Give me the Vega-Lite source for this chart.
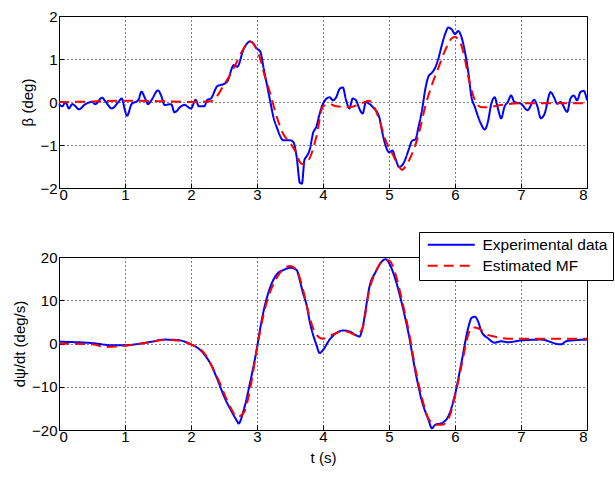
{
  "$schema": "https://vega.github.io/schema/vega-lite/v6.json",
  "background": "white",
  "padding": {"left": 12, "top": 8, "right": 1, "bottom": 0},
  "bounds": "flush",
  "spacing": 69,
  "config": {
    "font": "Liberation Sans",
    "view": {"stroke": "black", "strokeWidth": 1},
    "axis": {
      "grid": true, "gridColor": "black", "gridDash": [1, 3], "gridOpacity": 1, "gridWidth": 1,
      "domain": false, "tickColor": "black", "tickSize": -5,
      "labelFontSize": 15, "labelColor": "black", "labelPadding": 7,
      "titleFontSize": 15, "titleFontWeight": "normal", "titleColor": "black"
    }
  },
  "datasets": {
    "beta": [
      {"s":"Experimental data","t":0,"v":-0.05},{"s":"Experimental data","t":0.05,"v":-0.1},{"s":"Experimental data","t":0.1,"v":0},{"s":"Experimental data","t":0.15,"v":-0.15},{"s":"Experimental data","t":0.2,"v":-0.05},{"s":"Experimental data","t":0.25,"v":-0.1},{"s":"Experimental data","t":0.3,"v":-0.17},{"s":"Experimental data","t":0.4,"v":-0.05},{"s":"Experimental data","t":0.5,"v":0},{"s":"Experimental data","t":0.55,"v":-0.05},{"s":"Experimental data","t":0.65,"v":0.1},{"s":"Experimental data","t":0.7,"v":0.02},{"s":"Experimental data","t":0.8,"v":-0.15},{"s":"Experimental data","t":0.9,"v":0},{"s":"Experimental data","t":0.95,"v":0.08},{"s":"Experimental data","t":1.0,"v":-0.2},{"s":"Experimental data","t":1.03,"v":-0.32},{"s":"Experimental data","t":1.1,"v":-0.05},{"s":"Experimental data","t":1.2,"v":0.04},{"s":"Experimental data","t":1.25,"v":0.24},{"s":"Experimental data","t":1.3,"v":0.1},{"s":"Experimental data","t":1.35,"v":-0.05},{"s":"Experimental data","t":1.4,"v":0.04},{"s":"Experimental data","t":1.5,"v":0.27},{"s":"Experimental data","t":1.55,"v":0.14},{"s":"Experimental data","t":1.6,"v":-0.07},{"s":"Experimental data","t":1.7,"v":-0.05},{"s":"Experimental data","t":1.75,"v":-0.24},{"s":"Experimental data","t":1.85,"v":-0.1},{"s":"Experimental data","t":1.9,"v":-0.07},{"s":"Experimental data","t":2.0,"v":-0.15},{"s":"Experimental data","t":2.07,"v":0.05},{"s":"Experimental data","t":2.12,"v":-0.1},{"s":"Experimental data","t":2.2,"v":-0.1},{"s":"Experimental data","t":2.25,"v":0.05},{"s":"Experimental data","t":2.3,"v":0.08},{"s":"Experimental data","t":2.4,"v":0.37},{"s":"Experimental data","t":2.5,"v":0.42},{"s":"Experimental data","t":2.55,"v":0.48},{"s":"Experimental data","t":2.65,"v":0.86},{"s":"Experimental data","t":2.7,"v":0.82},{"s":"Experimental data","t":2.8,"v":1.24},{"s":"Experimental data","t":2.9,"v":1.41},{"s":"Experimental data","t":3.0,"v":1.24},{"s":"Experimental data","t":3.05,"v":1.17},{"s":"Experimental data","t":3.1,"v":0.79},{"s":"Experimental data","t":3.2,"v":0.02},{"s":"Experimental data","t":3.25,"v":-0.36},{"s":"Experimental data","t":3.3,"v":-0.59},{"s":"Experimental data","t":3.4,"v":-0.89},{"s":"Experimental data","t":3.5,"v":-0.89},{"s":"Experimental data","t":3.55,"v":-0.93},{"s":"Experimental data","t":3.6,"v":-1.27},{"s":"Experimental data","t":3.65,"v":-1.88},{"s":"Experimental data","t":3.68,"v":-1.9},{"s":"Experimental data","t":3.72,"v":-1.34},{"s":"Experimental data","t":3.75,"v":-1.27},{"s":"Experimental data","t":3.8,"v":-1.1},{"s":"Experimental data","t":3.85,"v":-0.72},{"s":"Experimental data","t":3.9,"v":-0.57},{"s":"Experimental data","t":3.95,"v":-0.27},{"s":"Experimental data","t":4.0,"v":-0.04},{"s":"Experimental data","t":4.1,"v":0.11},{"s":"Experimental data","t":4.15,"v":0.04},{"s":"Experimental data","t":4.2,"v":0.11},{"s":"Experimental data","t":4.25,"v":0.3},{"s":"Experimental data","t":4.3,"v":0.34},{"s":"Experimental data","t":4.35,"v":0.04},{"s":"Experimental data","t":4.4,"v":-0.15},{"s":"Experimental data","t":4.45,"v":0.08},{"s":"Experimental data","t":4.5,"v":0.04},{"s":"Experimental data","t":4.55,"v":-0.15},{"s":"Experimental data","t":4.6,"v":-0.27},{"s":"Experimental data","t":4.65,"v":0},{"s":"Experimental data","t":4.7,"v":-0.04},{"s":"Experimental data","t":4.75,"v":-0.11},{"s":"Experimental data","t":4.85,"v":-0.34},{"s":"Experimental data","t":4.9,"v":-0.72},{"s":"Experimental data","t":4.95,"v":-1.02},{"s":"Experimental data","t":5.0,"v":-1.17},{"s":"Experimental data","t":5.05,"v":-1.13},{"s":"Experimental data","t":5.1,"v":-1.32},{"s":"Experimental data","t":5.15,"v":-1.51},{"s":"Experimental data","t":5.2,"v":-1.47},{"s":"Experimental data","t":5.25,"v":-1.32},{"s":"Experimental data","t":5.3,"v":-1.1},{"s":"Experimental data","t":5.35,"v":-0.9},{"s":"Experimental data","t":5.4,"v":-0.87},{"s":"Experimental data","t":5.45,"v":-0.56},{"s":"Experimental data","t":5.5,"v":-0.19},{"s":"Experimental data","t":5.55,"v":0.3},{"s":"Experimental data","t":5.6,"v":0.6},{"s":"Experimental data","t":5.65,"v":0.68},{"s":"Experimental data","t":5.7,"v":0.8},{"s":"Experimental data","t":5.75,"v":1.02},{"s":"Experimental data","t":5.8,"v":1.32},{"s":"Experimental data","t":5.85,"v":1.58},{"s":"Experimental data","t":5.9,"v":1.73},{"s":"Experimental data","t":5.95,"v":1.69},{"s":"Experimental data","t":6.0,"v":1.58},{"s":"Experimental data","t":6.05,"v":1.65},{"s":"Experimental data","t":6.1,"v":1.5},{"s":"Experimental data","t":6.15,"v":1.17},{"s":"Experimental data","t":6.2,"v":0.71},{"s":"Experimental data","t":6.25,"v":0.11},{"s":"Experimental data","t":6.3,"v":-0.11},{"s":"Experimental data","t":6.35,"v":-0.34},{"s":"Experimental data","t":6.4,"v":-0.53},{"s":"Experimental data","t":6.45,"v":-0.64},{"s":"Experimental data","t":6.5,"v":-0.45},{"s":"Experimental data","t":6.55,"v":-0.04},{"s":"Experimental data","t":6.6,"v":0.11},{"s":"Experimental data","t":6.65,"v":-0.15},{"s":"Experimental data","t":6.7,"v":-0.38},{"s":"Experimental data","t":6.75,"v":-0.11},{"s":"Experimental data","t":6.8,"v":0},{"s":"Experimental data","t":6.85,"v":0.15},{"s":"Experimental data","t":6.9,"v":0},{"s":"Experimental data","t":7.0,"v":-0.04},{"s":"Experimental data","t":7.1,"v":-0.19},{"s":"Experimental data","t":7.2,"v":0.05},{"s":"Experimental data","t":7.25,"v":-0.11},{"s":"Experimental data","t":7.3,"v":-0.38},{"s":"Experimental data","t":7.35,"v":-0.3},{"s":"Experimental data","t":7.45,"v":0.23},{"s":"Experimental data","t":7.5,"v":0.11},{"s":"Experimental data","t":7.55,"v":-0.04},{"s":"Experimental data","t":7.6,"v":0},{"s":"Experimental data","t":7.7,"v":-0.23},{"s":"Experimental data","t":7.75,"v":0.08},{"s":"Experimental data","t":7.8,"v":0.15},{"s":"Experimental data","t":7.85,"v":0.04},{"s":"Experimental data","t":7.9,"v":0.23},{"s":"Experimental data","t":7.95,"v":0.26},{"s":"Experimental data","t":8.0,"v":0.04},
      {"s":"Estimated MF","t":0,"v":0},{"s":"Estimated MF","t":0.5,"v":0.01},{"s":"Estimated MF","t":1.0,"v":0.03},{"s":"Estimated MF","t":1.5,"v":0.02},{"s":"Estimated MF","t":2.0,"v":0},{"s":"Estimated MF","t":2.3,"v":0.02},{"s":"Estimated MF","t":2.4,"v":0.15},{"s":"Estimated MF","t":2.5,"v":0.4},{"s":"Estimated MF","t":2.6,"v":0.65},{"s":"Estimated MF","t":2.7,"v":0.95},{"s":"Estimated MF","t":2.8,"v":1.25},{"s":"Estimated MF","t":2.9,"v":1.4},{"s":"Estimated MF","t":2.95,"v":1.35},{"s":"Estimated MF","t":3.0,"v":1.2},{"s":"Estimated MF","t":3.05,"v":1.0},{"s":"Estimated MF","t":3.1,"v":0.7},{"s":"Estimated MF","t":3.2,"v":0.2},{"s":"Estimated MF","t":3.3,"v":-0.35},{"s":"Estimated MF","t":3.4,"v":-0.75},{"s":"Estimated MF","t":3.5,"v":-0.95},{"s":"Estimated MF","t":3.6,"v":-1.2},{"s":"Estimated MF","t":3.65,"v":-1.4},{"s":"Estimated MF","t":3.7,"v":-1.45},{"s":"Estimated MF","t":3.8,"v":-1.3},{"s":"Estimated MF","t":3.9,"v":-0.8},{"s":"Estimated MF","t":4.0,"v":-0.1},{"s":"Estimated MF","t":4.1,"v":-0.05},{"s":"Estimated MF","t":4.2,"v":-0.1},{"s":"Estimated MF","t":4.4,"v":-0.12},{"s":"Estimated MF","t":4.6,"v":-0.02},{"s":"Estimated MF","t":4.7,"v":0.03},{"s":"Estimated MF","t":4.75,"v":-0.05},{"s":"Estimated MF","t":4.85,"v":-0.4},{"s":"Estimated MF","t":4.95,"v":-0.9},{"s":"Estimated MF","t":5.05,"v":-1.2},{"s":"Estimated MF","t":5.15,"v":-1.5},{"s":"Estimated MF","t":5.2,"v":-1.58},{"s":"Estimated MF","t":5.25,"v":-1.5},{"s":"Estimated MF","t":5.35,"v":-1.2},{"s":"Estimated MF","t":5.45,"v":-0.75},{"s":"Estimated MF","t":5.55,"v":-0.1},{"s":"Estimated MF","t":5.65,"v":0.4},{"s":"Estimated MF","t":5.75,"v":0.8},{"s":"Estimated MF","t":5.85,"v":1.2},{"s":"Estimated MF","t":5.95,"v":1.48},{"s":"Estimated MF","t":6.0,"v":1.52},{"s":"Estimated MF","t":6.05,"v":1.45},{"s":"Estimated MF","t":6.1,"v":1.3},{"s":"Estimated MF","t":6.15,"v":1.0},{"s":"Estimated MF","t":6.2,"v":0.6},{"s":"Estimated MF","t":6.3,"v":0.05},{"s":"Estimated MF","t":6.4,"v":-0.12},{"s":"Estimated MF","t":6.5,"v":-0.12},{"s":"Estimated MF","t":6.7,"v":-0.07},{"s":"Estimated MF","t":7.0,"v":-0.03},{"s":"Estimated MF","t":8.0,"v":-0.03}
    ],
    "rate": [
      {"s":"Experimental data","t":0,"v":0.4},{"s":"Experimental data","t":0.5,"v":0.1},{"s":"Experimental data","t":0.8,"v":-0.4},{"s":"Experimental data","t":1.0,"v":-0.4},{"s":"Experimental data","t":1.2,"v":-0.1},{"s":"Experimental data","t":1.4,"v":0.4},{"s":"Experimental data","t":1.6,"v":0.9},{"s":"Experimental data","t":1.8,"v":0.8},{"s":"Experimental data","t":2.0,"v":-0.2},{"s":"Experimental data","t":2.1,"v":-1},{"s":"Experimental data","t":2.2,"v":-2.5},{"s":"Experimental data","t":2.3,"v":-4.8},{"s":"Experimental data","t":2.4,"v":-8.3},{"s":"Experimental data","t":2.5,"v":-12.2},{"s":"Experimental data","t":2.6,"v":-15.3},{"s":"Experimental data","t":2.7,"v":-18},{"s":"Experimental data","t":2.72,"v":-18.5},{"s":"Experimental data","t":2.8,"v":-15.3},{"s":"Experimental data","t":2.9,"v":-8.7},{"s":"Experimental data","t":3.0,"v":-1},{"s":"Experimental data","t":3.05,"v":3.6},{"s":"Experimental data","t":3.1,"v":7.5},{"s":"Experimental data","t":3.2,"v":13},{"s":"Experimental data","t":3.3,"v":16},{"s":"Experimental data","t":3.4,"v":17},{"s":"Experimental data","t":3.5,"v":17.5},{"s":"Experimental data","t":3.6,"v":17},{"s":"Experimental data","t":3.65,"v":14.5},{"s":"Experimental data","t":3.7,"v":11.5},{"s":"Experimental data","t":3.75,"v":9},{"s":"Experimental data","t":3.8,"v":5},{"s":"Experimental data","t":3.9,"v":-0.3},{"s":"Experimental data","t":3.95,"v":-2.2},{"s":"Experimental data","t":4.0,"v":-1.5},{"s":"Experimental data","t":4.1,"v":0.9},{"s":"Experimental data","t":4.2,"v":2.4},{"s":"Experimental data","t":4.3,"v":3},{"s":"Experimental data","t":4.4,"v":2.8},{"s":"Experimental data","t":4.5,"v":1.9},{"s":"Experimental data","t":4.55,"v":1.6},{"s":"Experimental data","t":4.6,"v":3.6},{"s":"Experimental data","t":4.65,"v":8.2},{"s":"Experimental data","t":4.7,"v":12.8},{"s":"Experimental data","t":4.8,"v":16.6},{"s":"Experimental data","t":4.9,"v":19.1},{"s":"Experimental data","t":4.95,"v":19.5},{"s":"Experimental data","t":5.0,"v":18.6},{"s":"Experimental data","t":5.1,"v":14.7},{"s":"Experimental data","t":5.2,"v":8.9},{"s":"Experimental data","t":5.3,"v":2},{"s":"Experimental data","t":5.4,"v":-6.5},{"s":"Experimental data","t":5.5,"v":-13.4},{"s":"Experimental data","t":5.6,"v":-17.7},{"s":"Experimental data","t":5.65,"v":-19.6},{"s":"Experimental data","t":5.7,"v":-18.8},{"s":"Experimental data","t":5.8,"v":-18.4},{"s":"Experimental data","t":5.9,"v":-16.8},{"s":"Experimental data","t":6.0,"v":-11.8},{"s":"Experimental data","t":6.1,"v":-4.2},{"s":"Experimental data","t":6.2,"v":3.6},{"s":"Experimental data","t":6.25,"v":5.9},{"s":"Experimental data","t":6.3,"v":6.2},{"s":"Experimental data","t":6.35,"v":5.1},{"s":"Experimental data","t":6.4,"v":2.8},{"s":"Experimental data","t":6.5,"v":1.2},{"s":"Experimental data","t":6.6,"v":0.2},{"s":"Experimental data","t":6.7,"v":0.5},{"s":"Experimental data","t":6.8,"v":0.3},{"s":"Experimental data","t":7.0,"v":0.7},{"s":"Experimental data","t":7.3,"v":0.9},{"s":"Experimental data","t":7.6,"v":-0.2},{"s":"Experimental data","t":7.7,"v":0.6},{"s":"Experimental data","t":8.0,"v":0.9},
      {"s":"Estimated MF","t":0,"v":0},{"s":"Estimated MF","t":0.5,"v":-0.2},{"s":"Estimated MF","t":0.7,"v":-0.8},{"s":"Estimated MF","t":1.0,"v":-0.5},{"s":"Estimated MF","t":1.3,"v":0.1},{"s":"Estimated MF","t":1.6,"v":0.8},{"s":"Estimated MF","t":1.8,"v":0.7},{"s":"Estimated MF","t":2.0,"v":-0.2},{"s":"Estimated MF","t":2.2,"v":-2.2},{"s":"Estimated MF","t":2.4,"v":-7.9},{"s":"Estimated MF","t":2.6,"v":-14.8},{"s":"Estimated MF","t":2.7,"v":-17},{"s":"Estimated MF","t":2.8,"v":-16},{"s":"Estimated MF","t":2.9,"v":-10.2},{"s":"Estimated MF","t":3.0,"v":-1},{"s":"Estimated MF","t":3.1,"v":6.7},{"s":"Estimated MF","t":3.2,"v":12},{"s":"Estimated MF","t":3.3,"v":15.2},{"s":"Estimated MF","t":3.4,"v":17.2},{"s":"Estimated MF","t":3.5,"v":17.9},{"s":"Estimated MF","t":3.6,"v":17},{"s":"Estimated MF","t":3.7,"v":12.3},{"s":"Estimated MF","t":3.8,"v":5.9},{"s":"Estimated MF","t":3.9,"v":2},{"s":"Estimated MF","t":4.0,"v":1.1},{"s":"Estimated MF","t":4.1,"v":1.8},{"s":"Estimated MF","t":4.2,"v":2.4},{"s":"Estimated MF","t":4.3,"v":2.9},{"s":"Estimated MF","t":4.4,"v":2.6},{"s":"Estimated MF","t":4.5,"v":1.9},{"s":"Estimated MF","t":4.6,"v":3.6},{"s":"Estimated MF","t":4.7,"v":12.3},{"s":"Estimated MF","t":4.8,"v":16.6},{"s":"Estimated MF","t":4.9,"v":19},{"s":"Estimated MF","t":5.0,"v":19.2},{"s":"Estimated MF","t":5.1,"v":16},{"s":"Estimated MF","t":5.2,"v":9.8},{"s":"Estimated MF","t":5.3,"v":2.8},{"s":"Estimated MF","t":5.4,"v":-5.8},{"s":"Estimated MF","t":5.5,"v":-12.6},{"s":"Estimated MF","t":5.6,"v":-17.4},{"s":"Estimated MF","t":5.7,"v":-18.8},{"s":"Estimated MF","t":5.8,"v":-18.8},{"s":"Estimated MF","t":5.9,"v":-17.4},{"s":"Estimated MF","t":6.0,"v":-12.2},{"s":"Estimated MF","t":6.1,"v":-5},{"s":"Estimated MF","t":6.2,"v":2},{"s":"Estimated MF","t":6.25,"v":3.7},{"s":"Estimated MF","t":6.3,"v":3.7},{"s":"Estimated MF","t":6.4,"v":3.1},{"s":"Estimated MF","t":6.5,"v":2},{"s":"Estimated MF","t":6.6,"v":1.6},{"s":"Estimated MF","t":6.8,"v":1.1},{"s":"Estimated MF","t":7.0,"v":1.1},{"s":"Estimated MF","t":8.0,"v":1.1}
    ]
  },
  "resolve": {"scale": {"color": "independent", "strokeDash": "independent"}},
  "vconcat": [
    {
      "width": 528, "height": 172,
      "data": {"name": "beta"},
      "mark": {"type": "line", "strokeWidth": 2, "interpolate": "monotone"},
      "encoding": {
        "x": {"field": "t", "type": "quantitative", "scale": {"domain": [0, 8], "nice": false}, "axis": {"values": [0,1,2,3,4,5,6,7,8], "title": null, "labelPadding": 4}},
        "y": {"field": "v", "type": "quantitative", "scale": {"domain": [-2, 2], "nice": false}, "axis": {"values": [-2,-1,0,1,2], "title": "β (deg)"}},
        "color": {"field": "s", "type": "nominal", "scale": {"domain": ["Experimental data", "Estimated MF"], "range": ["#0000ff", "#ff0000"]}, "legend": null},
        "strokeDash": {"field": "s", "type": "nominal", "scale": {"domain": ["Experimental data", "Estimated MF"], "range": [[1, 0], [10, 6]]}, "legend": null}
      }
    },
    {
      "width": 528, "height": 173,
      "data": {"name": "rate"},
      "mark": {"type": "line", "strokeWidth": 2, "interpolate": "monotone"},
      "encoding": {
        "x": {"field": "t", "type": "quantitative", "scale": {"domain": [0, 8], "nice": false}, "axis": {"values": [0,1,2,3,4,5,6,7,8], "title": "t (s)", "labelPadding": 4, "titlePadding": 6}},
        "y": {"field": "v", "type": "quantitative", "scale": {"domain": [-20, 20], "nice": false}, "axis": {"values": [-20,-10,0,10,20], "title": "dψ/dt (deg/s)"}},
        "color": {"field": "s", "type": "nominal", "scale": {"domain": ["Experimental data", "Estimated MF"], "range": ["#0000ff", "#ff0000"]},
          "legend": {"orient": "none", "legendX": 360, "legendY": -25, "title": null, "fillColor": "white", "strokeColor": "black", "padding": 5, "symbolType": "M-0.67,0H7.17", "symbolSize": 144, "symbolStrokeWidth": 2, "labelFontSize": 15.5, "labelColor": "black", "labelOffset": 43, "rowPadding": 4}},
        "strokeDash": {"field": "s", "type": "nominal", "scale": {"domain": ["Experimental data", "Estimated MF"], "range": [[1, 0], [10, 6]]},
          "legend": {"orient": "none", "legendX": 360, "legendY": -25, "title": null, "fillColor": "white", "strokeColor": "black", "padding": 5, "symbolType": "M-0.67,0H7.17", "symbolSize": 144, "symbolStrokeWidth": 2, "labelFontSize": 15.5, "labelColor": "black", "labelOffset": 43, "rowPadding": 4}}
      }
    }
  ]
}
